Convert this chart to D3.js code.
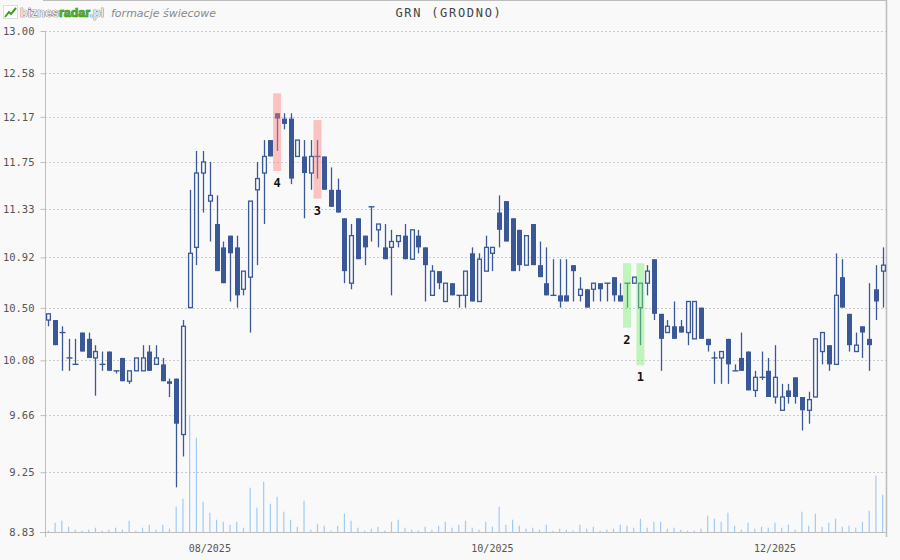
<!DOCTYPE html>
<html><head><meta charset="utf-8">
<script src="https://cdn.jsdelivr.net/npm/d3@7/dist/d3.min.js"></script>
<style>
html,body{margin:0;padding:0;background:#f9f9f9;}
svg{display:block;}
</style></head><body>
<svg id="chart" width="900" height="560"></svg>
<script>
// ---- data (trading days, index 0 = 30.06.2025) ----
const openP = [
 10.40,10.40,10.30,10.10,10.05,10.30,10.25,10.10,10.05,10.15,
 10.00,10.10,9.92,10.00,10.00,10.15,10.05,10.05,9.92,9.94,
 9.52,10.50,11.00,11.65,11.40,11.20,11.00,11.10,11.00,10.65,
 10.75,11.50,11.65,11.95,12.20,12.15,12.15,11.80,11.80,11.65,
 11.80,11.80,11.50,11.50,11.25,10.70,11.25,11.10,11.35,11.15,
 11.00,11.00,11.05,11.10,10.90,11.10,11.00,10.60,10.80,10.55,
 10.70,10.60,10.60,10.95,10.55,10.80,10.95,11.30,11.40,11.25,
 11.15,10.85,11.20,10.85,10.70,10.60,10.60,10.60,10.85,10.60,
 10.65,10.65,10.70,10.70,10.75,10.60,10.70,10.70,10.50,10.70,
 10.90,10.45,10.30,10.35,10.35,10.30,10.25,10.50,10.25,10.10,
 10.10,10.25,10.00,10.10,10.15,9.85,9.95,10.00,9.80,9.70,
 9.85,9.95,9.80,9.70,9.80,10.15,10.20,10.05,10.75,10.45,
 10.15,10.35,10.25,10.65,10.80];
const highP = [
 10.45,10.40,10.35,10.25,10.25,10.30,10.30,10.20,10.15,10.15,
 10.00,10.10,10.00,10.10,10.20,10.20,10.20,10.10,9.94,9.94,
 10.40,11.50,11.85,11.85,11.75,11.45,11.05,11.10,11.10,10.80,
 11.40,11.75,11.95,11.95,12.20,12.20,12.20,11.95,11.95,11.95,
 11.95,11.80,11.70,11.60,11.25,11.20,11.25,11.10,11.35,11.20,
 11.20,11.15,11.10,11.20,11.15,11.15,11.00,10.85,10.80,10.70,
 10.70,10.60,10.80,11.00,10.95,11.10,11.00,11.45,11.40,11.25,
 11.15,11.10,11.20,11.05,11.00,10.90,10.90,10.90,10.85,10.75,
 10.65,10.70,10.70,10.70,10.75,10.70,10.70,10.75,10.70,10.85,
 10.90,10.45,10.40,10.55,10.40,10.55,10.55,10.50,10.25,10.15,
 10.15,10.25,10.05,10.30,10.15,10.00,10.15,10.10,10.20,9.90,
 9.90,9.95,9.80,9.84,10.25,10.30,10.20,10.95,10.90,10.45,
 10.30,10.35,10.70,10.85,11.00];
const lowP = [
 10.35,10.20,10.00,10.00,10.05,10.15,10.10,9.81,10.00,10.00,
 9.98,9.92,9.90,10.00,10.00,10.00,10.05,9.92,9.80,9.14,
 9.36,10.50,10.85,11.30,11.05,10.80,10.70,10.55,10.50,10.60,
 10.30,10.85,11.20,11.80,11.85,12.05,11.55,11.80,11.25,11.50,
 11.60,11.50,11.35,11.30,10.70,10.65,10.90,10.85,11.05,11.00,
 10.90,10.60,11.00,10.90,10.90,10.95,10.55,10.60,10.65,10.55,
 10.60,10.50,10.50,10.55,10.55,10.80,10.80,11.00,11.05,10.80,
 10.80,10.85,10.85,10.75,10.60,10.60,10.50,10.55,10.55,10.55,
 10.50,10.55,10.55,10.55,10.55,10.55,10.50,10.70,10.20,10.60,
 10.40,10.00,10.30,10.25,10.30,10.20,10.25,10.25,10.15,9.90,
 9.90,9.90,10.00,10.00,9.85,9.80,9.93,9.80,9.75,9.70,
 9.75,9.75,9.55,9.60,9.80,10.05,10.00,10.05,10.50,10.15,
 10.15,10.10,10.00,10.40,10.50];
const closeP = [
 10.45,10.20,10.30,10.10,10.05,10.15,10.10,10.15,10.05,10.00,
 10.00,9.92,10.00,10.10,10.10,10.00,10.10,9.92,9.90,9.60,
 10.35,10.95,11.65,11.75,11.45,10.80,10.70,10.95,10.60,10.80,
 11.40,11.60,11.80,11.80,12.15,12.10,11.60,11.95,11.65,11.80,
 11.80,11.50,11.35,11.30,10.80,11.10,10.90,11.00,11.35,11.20,
 10.90,11.05,11.10,10.90,11.15,11.00,10.85,10.80,10.70,10.70,
 10.60,10.60,10.80,10.55,10.90,11.00,11.00,11.15,11.05,10.80,
 10.85,11.10,10.85,10.75,10.60,10.60,10.55,10.55,10.80,10.65,
 10.50,10.70,10.65,10.70,10.60,10.55,10.70,10.75,10.70,10.80,
 10.45,10.25,10.35,10.25,10.30,10.55,10.55,10.25,10.20,10.10,
 10.15,10.05,10.00,10.00,9.85,9.95,9.95,9.80,9.95,9.80,
 9.80,9.80,9.70,9.78,10.25,10.30,10.05,10.60,10.50,10.20,
 10.20,10.30,10.20,10.55,10.85];
const volume = [
 1300,9300,11300,5300,2300,1300,2300,4300,1300,2300,
 4300,2300,11300,1300,4300,7300,2300,7300,3300,25300,
 33300,117000,94300,30300,19300,12300,10300,7300,10300,4300,
 44300,24300,50300,28300,35300,20300,12300,5300,31300,2300,
 8300,6300,1300,6300,18300,11300,4300,1300,3300,5300,
 1300,10300,12300,4300,2300,1300,5300,2300,6300,10300,
 4300,7300,11300,4300,2300,10300,5300,25300,7300,12300,
 6300,3300,4300,2300,7300,1300,3300,2300,1300,7300,
 3300,5300,1300,2300,3300,7300,6300,4300,13300,4300,
 10300,10300,3300,4300,2300,1300,1300,3300,16300,13300,
 10300,19300,6300,2300,9300,3300,5300,4300,9300,4300,
 7300,2300,20300,6300,18300,5300,9300,13300,5300,6300,
 4300,10300,21300,56300,37300];
const monthTickIdx = [24, 66, 108];
const monthTickLabels = ["08/2025", "10/2025", "12/2025"];
const priceTicks = [13.00, 12.583, 12.166, 11.749, 11.332, 10.915, 10.498, 10.081, 9.664, 9.247, 8.83];
const priceTickLabels = ["13.00", "12.58", "12.17", "11.75", "11.33", "10.92", "10.50", "10.08", "9.66", "9.25", "8.83"];
const patternIdx = [34, 40, 86, 88];
const patternLabels = ["4", "3", "2", "1"];
const patternKind = ["bear", "bear", "bull", "bull"];
const chartTitle = "GRN (GRODNO)";

// ---- layout ----
const W = 900, H = 560;
const L = 45, R = 886, T = 31, B = 532;
const N = closeP.length;
const C_BODY = "#3a5898", C_VOL = "#9fcbf7", C_GRID = "#cccccc", C_AXIS = "#bdbdbd";
const mono = "'DejaVu Sans Mono', monospace";

const svg = d3.select("#chart");
svg.append("rect").attr("width", W).attr("height", H).attr("fill", "#f9f9f9");

const x = d3.scaleBand().domain(d3.range(N)).range([L, R]);
const cx = i => x(i) + x.bandwidth() / 2;
const y = d3.scaleLog().domain([8.83, 13.0]).range([B, T]);
const yv = d3.scaleLinear().domain([0, d3.max(volume)]).range([B, B - 117]);

// grid
svg.append("g").selectAll("line").data(priceTicks.slice(0, -1)).join("line")
  .attr("x1", L).attr("x2", R)
  .attr("y1", d => Math.round(y(d)) + 0.5).attr("y2", d => Math.round(y(d)) + 0.5)
  .attr("stroke", C_GRID).attr("stroke-dasharray", "2,2");

// top border
svg.append("line").attr("x1", 43).attr("x2", R).attr("y1", 0.5).attr("y2", 0.5).attr("stroke", C_AXIS);

// volume
svg.append("g").selectAll("rect").data(volume).join("rect")
  .attr("x", (d, i) => cx(i) - 0.6).attr("width", 1.2)
  .attr("y", d => yv(d)).attr("height", d => B - yv(d))
  .attr("fill", C_VOL);

// axes
const yAxis = d3.axisLeft(y).tickValues(priceTicks)
  .tickFormat((d, k) => priceTickLabels[k]).tickSize(5).tickPadding(6);
const gy = svg.append("g").attr("transform", `translate(${L + 0.5},0)`).call(yAxis);
gy.select(".domain").remove();
gy.selectAll(".tick line").attr("stroke", C_AXIS);
gy.selectAll(".tick text").attr("font-family", mono).attr("font-size", 10.5).attr("fill", "#555");
svg.append("line").attr("x1", L + 0.5).attr("x2", L + 0.5).attr("y1", T).attr("y2", B + 5).attr("stroke", C_AXIS);
svg.append("line").attr("x1", R + 0.5).attr("x2", R + 0.5).attr("y1", 0).attr("y2", B + 5).attr("stroke", C_AXIS).attr("stroke-width", 1.5);
svg.append("line").attr("x1", 40).attr("x2", R).attr("y1", B + 0.5).attr("y2", B + 0.5).attr("stroke", C_AXIS).attr("stroke-width", 1.2);

const xAxis = d3.axisBottom(x).tickValues(monthTickIdx)
  .tickFormat((d, k) => monthTickLabels[k]).tickSize(0).tickPadding(13);
const gx = svg.append("g").attr("transform", `translate(0,${B})`).call(xAxis);
gx.select(".domain").remove();
gx.selectAll(".tick text").attr("font-family", mono).attr("font-size", 10).attr("fill", "#555");

// candles
const gC = svg.append("g");
const idx = d3.range(N);
gC.selectAll("line.wick").data(idx).join("line").attr("class", "wick")
  .attr("x1", i => Math.round(cx(i)) + 0.5).attr("x2", i => Math.round(cx(i)) + 0.5)
  .attr("y1", i => y(highP[i])).attr("y2", i => y(lowP[i]))
  .attr("stroke", C_BODY).attr("stroke-width", 1.3);

const bw = 5;
idx.forEach(i => {
  const o = openP[i], c = closeP[i];
  const xc = Math.round(cx(i)) + 0.5;
  const top = y(Math.max(o, c)), bot = y(Math.min(o, c));
  if (Math.abs(bot - top) < 1) {
    gC.append("line").attr("x1", xc - 3).attr("x2", xc + 3)
      .attr("y1", top).attr("y2", top).attr("stroke", C_BODY).attr("stroke-width", 1.4);
  } else if (c < o) {
    gC.append("rect").attr("x", xc - bw / 2).attr("width", bw)
      .attr("y", top).attr("height", bot - top).attr("fill", C_BODY);
  } else {
    gC.append("rect").attr("x", xc - bw / 2 + 0.6).attr("width", bw - 1.2)
      .attr("y", top).attr("height", bot - top)
      .attr("fill", "#f9f9f9").attr("stroke", C_BODY).attr("stroke-width", 1.3);
  }
});

// pattern highlights
const gP = svg.append("g");
patternIdx.forEach((i, k) => {
  const y0 = y(highP[i]) - 20, y1 = y(lowP[i]) + 20;
  gP.append("rect").attr("x", cx(i) - 4).attr("width", 8)
    .attr("y", y0).attr("height", y1 - y0)
    .attr("fill", patternKind[k] === "bear" ? "rgba(255,120,120,0.42)" : "rgba(120,240,110,0.45)");
  gP.append("text").attr("x", cx(i)).attr("y", y1 + 16).attr("text-anchor", "middle")
    .attr("font-family", mono).attr("font-weight", "bold").attr("font-size", 12).attr("fill", "#111")
    .text(patternLabels[k]);
});

// title
svg.append("text").attr("x", 449).attr("y", 17).attr("text-anchor", "middle")
  .attr("font-family", mono).attr("font-size", 12).attr("letter-spacing", 1.7).attr("fill", "#444")
  .text(chartTitle);

// logo
const lg = svg.append("g");
lg.append("rect").attr("x", 3.5).attr("y", 5.5).attr("width", 14).attr("height", 13).attr("fill", "#fff").attr("stroke", "#ddd");
lg.append("polyline").attr("points", "5,17 9,12 11,14 16,8").attr("fill", "none").attr("stroke", "#3fa01a").attr("stroke-width", 2);
const logo = lg.append("text").attr("x", 20).attr("y", 17)
  .attr("font-family", "'Liberation Sans', Arial, sans-serif").attr("font-weight", "bold")
  .attr("font-size", 12.5).attr("stroke-width", 0.7).attr("paint-order", "stroke");
logo.append("tspan").attr("fill", "#e8e8e8").attr("stroke", "#555").text("biznes");
logo.append("tspan").attr("fill", "#4cae1c").attr("stroke", "#2c6e10").text("radar");
logo.append("tspan").attr("fill", "#e8e8e8").attr("stroke", "#555").text(".pl");
lg.append("text").attr("x", 111).attr("y", 17).attr("font-family", "'DejaVu Sans', sans-serif").attr("font-style", "italic")
  .attr("font-size", 11).attr("fill", "#8a8a8a").text("formacje świecowe");
</script>
</body></html>
